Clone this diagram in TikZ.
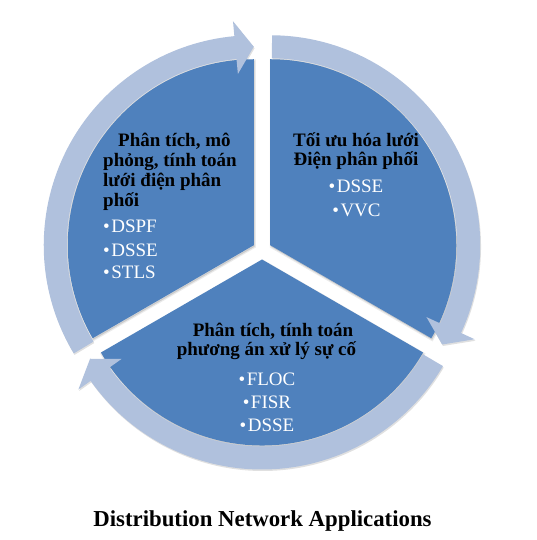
\documentclass[tikz,border=0pt]{standalone}
\usepackage{fontspec}
\setmainfont{Liberation Serif}
\usetikzlibrary{calc}
\definecolor{segblue}{HTML}{4F81BD}
\definecolor{arrowband}{HTML}{B0C1DD}
\newcommand\itembul{•\kern1.5pt}
\begin{document}
\begin{tikzpicture}[x=1pt,y=1pt,
  seg/.style={fill=segblue},
  segshadow/.style={fill=black, fill opacity=0.13, draw=black, draw opacity=0.08, line width=2.5pt},
  band/.style={fill=arrowband},
  bandshadow/.style={fill=black, fill opacity=0.12},
  hdr/.style={font=\fontsize{19}{20}\selectfont\bfseries, text=black, inner sep=0pt},
  itm/.style={font=\fontsize{19}{20}\selectfont, text=white, inner sep=0pt},
  ttl/.style={font=\fontsize{22.8}{24}\selectfont\bfseries, text=black, inner sep=0pt}]
\useasboundingbox (0,0) rectangle (536,540);
\fill[white] (0,0) rectangle (536,540);
\coordinate (cTL) at (253.77,294.75);
\coordinate (cTR) at (270.23,294.75);
\coordinate (cB) at (262,280.5);

% shadows
\begin{scope}[shift={(cTL)}, shift={(0.8,-1.5)}]
  \fill[bandshadow] (211:210) arc[start angle=211, end angle=95.3, radius=210] -- (95.3:225) -- (90:198.5) -- (95.3:172) -- (95.3:187) arc[start angle=95.3, end angle=211, radius=187] -- cycle;
  \path[segshadow] (0,0) -- (90:186) arc[start angle=90, end angle=210, radius=186] -- cycle;
\end{scope}
\begin{scope}[shift={(cTR)}, shift={(0.8,-1.5)}]
  \fill[bandshadow] (89.5:210) arc[start angle=89.5, end angle=-24.7, radius=210] -- (-24.7:225) -- (-30:198.5) -- (-24.7:172) -- (-24.7:187) arc[start angle=-24.7, end angle=89.5, radius=187] -- cycle;
  \path[segshadow] (0,0) -- (-30:186) arc[start angle=-30, end angle=90, radius=186] -- cycle;
\end{scope}
\begin{scope}[shift={(cB)}, shift={(0.8,-1.5)}]
  \fill[bandshadow] (-30.5:210) arc[start angle=-30.5, end angle=-144.7, radius=210] -- (-144.7:225) -- (-150:198.5) -- (-144.7:172) -- (-144.7:187) arc[start angle=-144.7, end angle=-30.5, radius=187] -- cycle;
  \path[segshadow] (0,0) -- (210:186) arc[start angle=210, end angle=330, radius=186] -- cycle;
\end{scope}

% segments and arrows
\begin{scope}[shift={(cTL)}]
  \fill[seg] (0,0) -- (90:186) arc[start angle=90, end angle=210, radius=186] -- cycle;
  \fill[band] (211:210) arc[start angle=211, end angle=95.3, radius=210] -- (95.3:225) -- (90:198.5) -- (95.3:172) -- (95.3:187) arc[start angle=95.3, end angle=211, radius=187] -- cycle;
\end{scope}
\begin{scope}[shift={(cTR)}]
  \fill[seg] (0,0) -- (-30:186) arc[start angle=-30, end angle=90, radius=186] -- cycle;
  \fill[band] (89.5:210) arc[start angle=89.5, end angle=-24.7, radius=210] -- (-24.7:225) -- (-30:198.5) -- (-24.7:172) -- (-24.7:187) arc[start angle=-24.7, end angle=89.5, radius=187] -- cycle;
\end{scope}
\begin{scope}[shift={(cB)}]
  \fill[seg] (0,0) -- (210:186) arc[start angle=210, end angle=330, radius=186] -- cycle;
  \fill[band] (-30.5:210) arc[start angle=-30.5, end angle=-144.7, radius=210] -- (-144.7:225) -- (-150:198.5) -- (-144.7:172) -- (-144.7:187) arc[start angle=-144.7, end angle=-30.5, radius=187] -- cycle;
\end{scope}

% top-left texts
\node[hdr, anchor=base west] (tl1) at (118,393) {Phân tích, mô};
\node[hdr, anchor=base west] (tl2) at (103,373) {phỏng, tính toán};
\node[hdr, anchor=base west] (tl3) at (103,353) {lưới điện phân};
\node[hdr, anchor=base west] (tl4) at (103,333) {phối};
\node[itm, anchor=base west] (tlb1) at (103,307) {\itembul DSPF};
\node[itm, anchor=base west] (tlb2) at (103,283.5) {\itembul DSSE};
\node[itm, anchor=base west] (tlb3) at (103,261) {\itembul STLS};

% top-right texts
\node[hdr, anchor=base] (tr1) at (356,393) {Tối ưu hóa lưới};
\node[hdr, anchor=base] (tr2) at (356,374) {Điện phân phối};
\node[itm, anchor=base] (trb1) at (356,347) {\itembul DSSE};
\node[itm, anchor=base] (trb2) at (356.5,323) {\itembul VVC};

% bottom texts
\node[hdr, anchor=base] (b1) at (273,203.3) {Phân tích, tính toán};
\node[hdr, anchor=base] (b2) at (266.5,184) {phương án xử lý sự cố};
\node[itm, anchor=base] (bb1) at (267,154) {\itembul FLOC};
\node[itm, anchor=base] (bb2) at (267,131) {\itembul FISR};
\node[itm, anchor=base] (bb3) at (267,108.3) {\itembul DSSE};

% title
\node[ttl, anchor=base] (title) at (262.5,13.3) {Distribution Network Applications};
\end{tikzpicture}
\end{document}
